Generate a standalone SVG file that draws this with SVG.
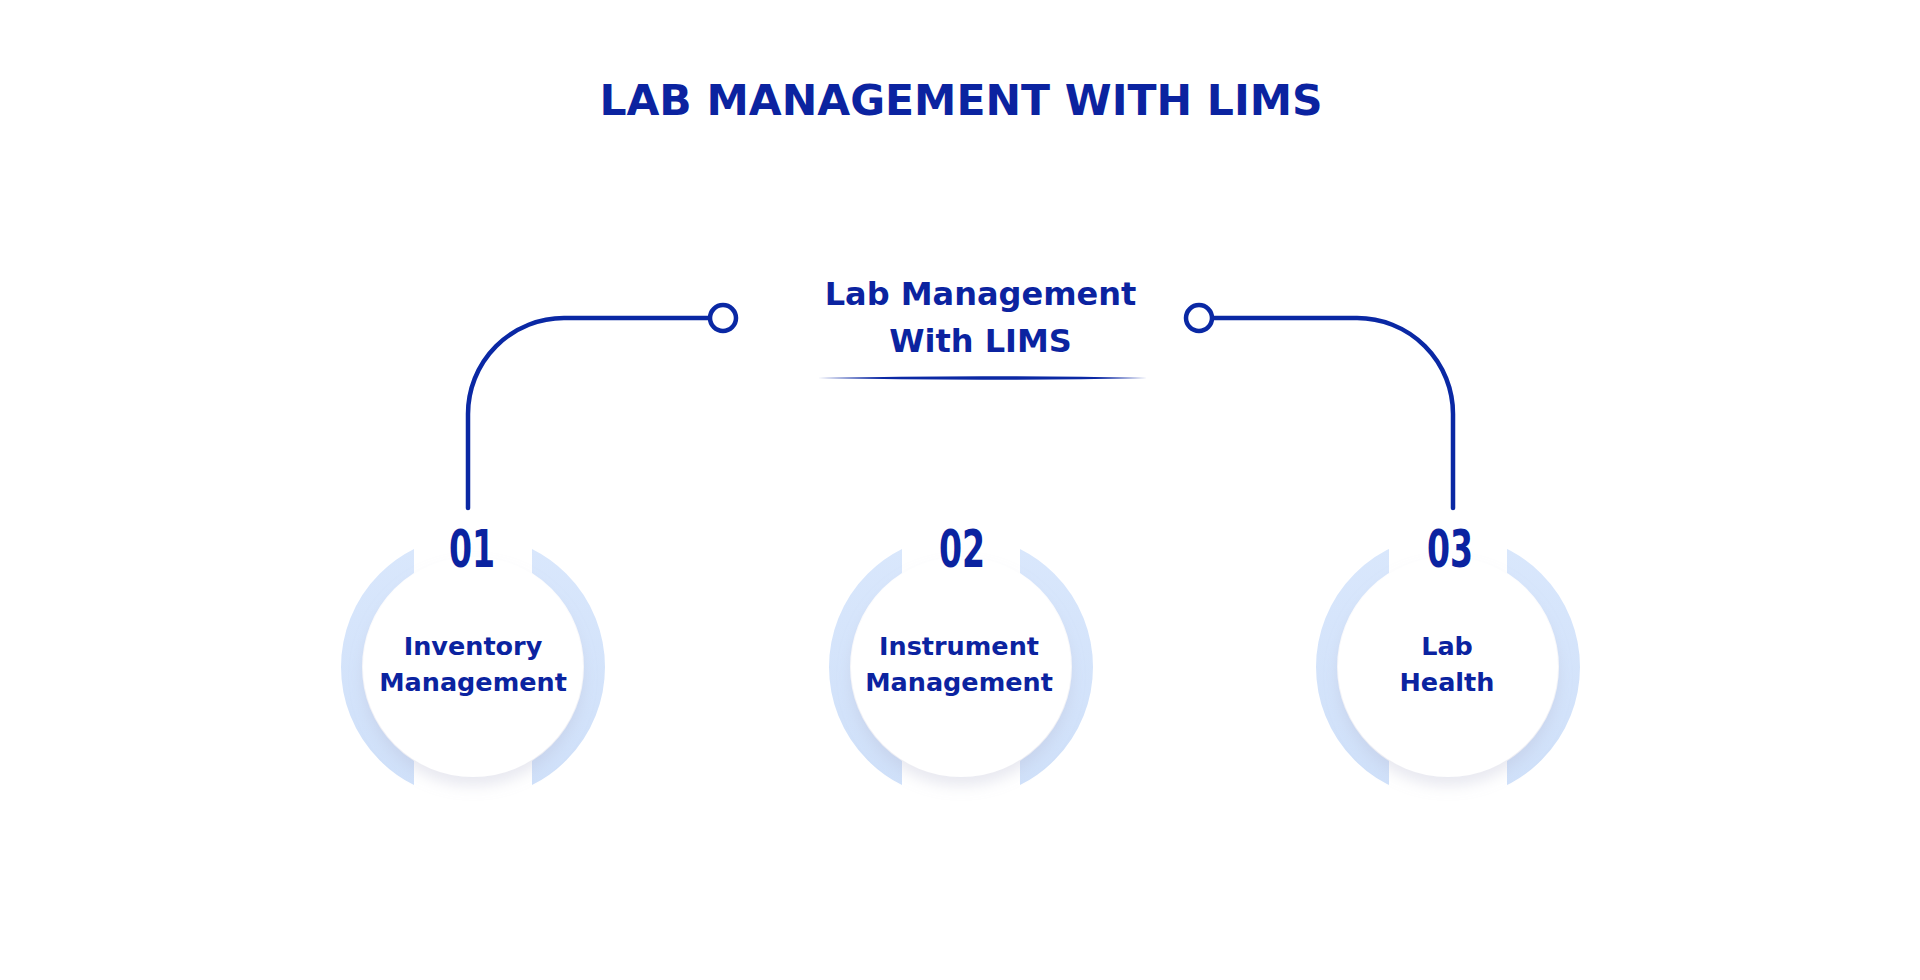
<svg xmlns="http://www.w3.org/2000/svg" width="1920" height="980" viewBox="0 0 1920 980">
  <style>
    .title { font-family: "DejaVu Sans", "Liberation Sans", sans-serif; font-weight: 700; font-size: 42.5px; fill: #0b23a0; }
    .hub { font-family: "DejaVu Sans", "Liberation Sans", sans-serif; font-weight: 700; font-size: 32px; fill: #0b23a0; }
    .lbl { font-family: "DejaVu Sans", "Liberation Sans", sans-serif; font-weight: 700; font-size: 25.5px; fill: #0b23a0; }
    .num { font-family: "DejaVu Sans", "Liberation Sans", sans-serif; font-weight: 700; font-size: 51px; fill: #0b23a0; }
    .conn { fill: none; stroke: #0a28a4; stroke-width: 4.5; stroke-linecap: round; }
    .dot { fill: #ffffff; stroke: #0a28a4; stroke-width: 4.5; }
    .ring { fill: none; stroke: url(#ringGrad); stroke-width: 21; }
    .disc { fill: #ffffff; filter: url(#shadow); }
  </style>
  <defs>
    <linearGradient id="ringGrad" x1="0" y1="0" x2="0" y2="1">
      <stop offset="0" stop-color="#d9e7fc"/>
      <stop offset="1" stop-color="#cfe0f9"/>
    </linearGradient>
    <clipPath id="ringClip">
      <rect x="-150" y="-150" width="91" height="300"/>
      <rect x="59" y="-150" width="91" height="300"/>
    </clipPath>
    <filter id="shadow" x="-40%" y="-40%" width="180%" height="180%">
      <feDropShadow dx="0" dy="9" stdDeviation="7" flood-color="#b3b5cf" flood-opacity="0.3"/>
    </filter>
  </defs>
  <rect width="1920" height="980" fill="#ffffff"/>

  <text class="title" x="961" y="115" text-anchor="middle">LAB MANAGEMENT WITH LIMS</text>

  <g id="hub">
    <text class="hub" x="980.5" y="305" text-anchor="middle">Lab Management</text>
    <text class="hub" x="980.5" y="352" text-anchor="middle">With LIMS</text>
    <path d="M818,378 Q982,374.4 1147,378 Q982,381.6 818,378 Z" fill="#0b28a4"/>
  </g>

  <g id="connectors">
    <path class="conn" d="M468,508 V414 A96,96 0 0 1 564,318 H710"/>
    <circle class="dot" cx="723" cy="318" r="13"/>
    <path class="conn" d="M1212,318 H1357 A96,96 0 0 1 1453,414 V508"/>
    <circle class="dot" cx="1199" cy="318" r="13"/>
  </g>

  <g id="node1" transform="translate(473,667)">
    <circle class="ring" r="121.5" clip-path="url(#ringClip)"/>
    <circle class="disc" r="110"/>
    <text class="num" transform="translate(-1,-100) scale(0.65,1)" text-anchor="middle">01</text>
    <text class="lbl" x="0" y="-12" text-anchor="middle">Inventory</text>
    <text class="lbl" x="0" y="24" text-anchor="middle">Management</text>
  </g>

  <g id="node2" transform="translate(961,667)">
    <circle class="ring" r="121.5" clip-path="url(#ringClip)"/>
    <circle class="disc" r="110"/>
    <text class="num" transform="translate(1,-100) scale(0.65,1)" text-anchor="middle">02</text>
    <text class="lbl" x="-2" y="-12" text-anchor="middle">Instrument</text>
    <text class="lbl" x="-2" y="24" text-anchor="middle">Management</text>
  </g>

  <g id="node3" transform="translate(1448,667)">
    <circle class="ring" r="121.5" clip-path="url(#ringClip)"/>
    <circle class="disc" r="110"/>
    <text class="num" transform="translate(2,-100) scale(0.65,1)" text-anchor="middle">03</text>
    <text class="lbl" x="-1" y="-12" text-anchor="middle">Lab</text>
    <text class="lbl" x="-1" y="24" text-anchor="middle">Health</text>
  </g>
</svg>
